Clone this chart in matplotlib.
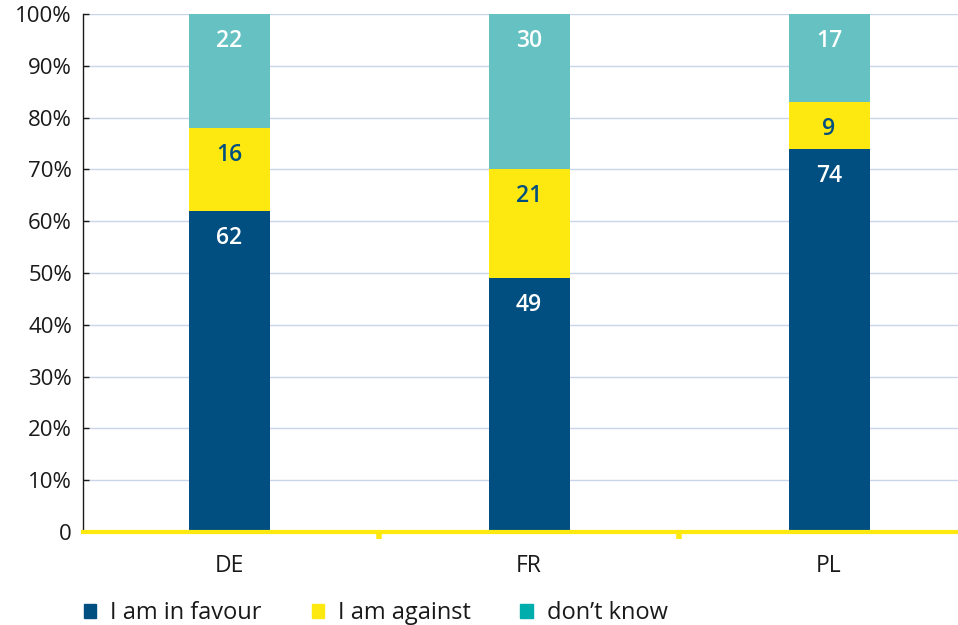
import matplotlib
matplotlib.use("Agg")
import matplotlib.pyplot as plt
from matplotlib.patches import Patch
import numpy as np

plt.rcParams['font.family'] = ['Open Sans', 'DejaVu Sans']

countries = ['DE', 'FR', 'PL']
in_favour = [62, 49, 74]
against = [16, 21, 9]
dont_know = [22, 30, 17]
series_names = ['I am in favour', 'I am against', 'don\u2019t know']

blue = '#004f80'
yellow = '#fde910'
teal_bar = '#66c2c2'
teal_key = '#00adad'
grid_col = '#c9d5ea'
text_col = '#1a1a1a'

fig = plt.figure(figsize=(9.58, 6.25), dpi=100)
ax = fig.add_axes([83 / 958, 1 - 532 / 625, 1 - 83 / 958, 518 / 625])

x = np.arange(len(countries))
w = 0.27
fav = np.array(in_favour)
ag = np.array(against)
dk = np.array(dont_know)

ax.bar(x, fav, w, color=blue, zorder=3)
ax.bar(x, ag, w, bottom=fav, color=yellow, zorder=3)
ax.bar(x, dk, w, bottom=fav + ag, color=teal_bar, zorder=3)

# value labels sit just under the top of each segment
off = 5.2
lbl = dict(ha='center', va='center', fontsize=16.5, fontweight='semibold', zorder=4)
for i in range(len(countries)):
    ax.text(x[i], fav[i] - off, str(fav[i]), color='white', **lbl)
    ax.text(x[i], fav[i] + ag[i] - off, str(ag[i]), color=blue, **lbl)
    ax.text(x[i], fav[i] + ag[i] + dk[i] - off, str(dk[i]), color='white', **lbl)

ax.set_xlim(-0.487, 2.43)
ax.set_ylim(0, 100)

ax.set_yticks(np.arange(0, 101, 10))
ax.set_yticklabels(['0'] + ['%d%%' % v for v in range(10, 101, 10)])
ax.yaxis.grid(True, color=grid_col, linewidth=1, zorder=0)
ax.tick_params(axis='y', direction='in', length=4, width=1, color=text_col,
               labelsize=16, labelcolor=text_col, pad=8)

ax.set_xticks(x)
ax.set_xticklabels(countries)
ax.set_xticks([0.5, 1.5], minor=True)
ax.tick_params(axis='x', which='major', length=0, labelsize=16.5,
               labelcolor=text_col, pad=16)
ax.tick_params(axis='x', which='minor', direction='out', length=5, width=4,
               color=yellow)

for s in ['top', 'right']:
    ax.spines[s].set_visible(False)
ax.spines['left'].set_color(text_col)
ax.spines['left'].set_linewidth(1)
ax.spines['bottom'].set_color(yellow)
ax.spines['bottom'].set_linewidth(3)
ax.spines['bottom'].set_zorder(5)

handles = [Patch(color=blue), Patch(color=yellow), Patch(color=teal_key)]
fig.legend(handles, series_names, loc='center left',
           bbox_to_anchor=(84 / 958, 1 - 613 / 625), ncol=3, frameon=False,
           fontsize=17, handlelength=0.52, handleheight=0.52,
           handletextpad=0.6, columnspacing=2.1, borderpad=0,
           borderaxespad=0, labelcolor=text_col)

fig.savefig('out.png', dpi=100)
